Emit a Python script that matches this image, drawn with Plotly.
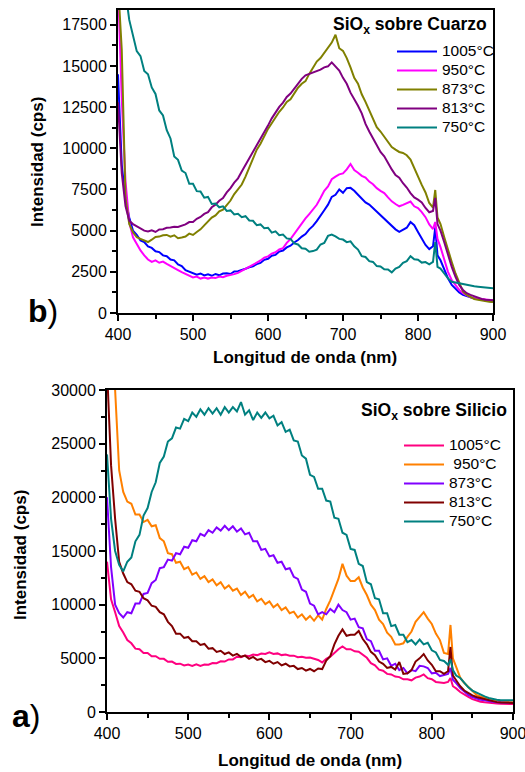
import plotly.graph_objects as go

# ---------------- data ----------------
wl = [400, 405, 410, 415, 420, 425, 430, 435, 440, 445, 450, 455, 460, 465, 470, 475, 480, 485, 490, 495,
      500, 505, 510, 515, 520, 525, 530, 535, 540, 545, 550, 555, 560, 565, 570, 575, 580, 585, 590, 595,
      600, 605, 610, 615, 620, 625, 630, 635, 640, 645, 650, 655, 660, 665, 670, 675, 680, 685, 690, 695,
      700, 705, 710, 715, 720, 725, 730, 735, 740, 745, 750, 755, 760, 765, 770, 775, 780, 785, 790, 795,
      800, 805, 810, 815, 820, 823, 826, 830, 835, 840, 845, 850, 855, 860, 865, 870, 875, 880, 885, 890,
      895, 900]

labels_q = ["1005°C", "950°C", "873°C", "813°C", "750°C"]
labels_s = ["1005°C", " 950°C", "873°C", "813°C", "750°C"]

# SiOx sobre Cuarzo (b)
q1005 = [14500, 9000, 6900, 5800, 5000, 4750, 4400, 4300, 4050, 3950, 3750, 3700, 3500, 3450, 3250, 3200, 2950, 2850, 2600, 2520,
         2420, 2330, 2400, 2280, 2350, 2260, 2370, 2290, 2400, 2420, 2370, 2520, 2540, 2640, 2690, 2780, 2840, 2970, 3040, 3230,
         3290, 3480, 3530, 3730, 3790, 3980, 4090, 4280, 4430, 4640, 4790, 5080, 5290, 5580, 5880, 6240, 6580, 7050, 7180, 7500,
         7300, 7580, 7600, 7420, 7180, 6920, 6720, 6580, 6370, 6120, 5920, 5720, 5520, 5280, 5080, 4930, 5080, 5180, 5520, 5330,
         4920, 4480, 4130, 3880, 4050, 5200, 3500, 3200, 2600, 2100, 1700, 1450, 1250, 1100, 1000, 950, 900, 850, 800, 750,
         700, 680]
q950 = [20000, 13000, 8000, 5500, 4600, 4200, 3800, 3500, 3250, 3100, 3200, 3050, 3120, 2980, 2870, 2740, 2610, 2480, 2370, 2240,
        2160, 2210, 2090, 2160, 2090, 2160, 2120, 2210, 2170, 2260, 2290, 2360, 2440, 2560, 2670, 2790, 2890, 3060, 3190, 3360,
        3440, 3610, 3690, 3860, 3940, 4260, 4490, 4810, 5140, 5410, 5740, 6010, 6290, 6570, 6980, 7420, 7690, 8120, 8280, 8420,
        8480, 8720, 9050, 8680, 8520, 8330, 8220, 7980, 7820, 7580, 7420, 7280, 7020, 6780, 6620, 6480, 6570, 6680, 6770, 6480,
        6370, 6130, 5820, 5380, 5100, 5530, 4500, 4000, 3200, 2500, 2000, 1700, 1400, 1200, 1050, 950, 900, 870, 830, 800,
        780, 780]
q873 = [20000, 16000, 7000, 5400, 4900, 4600, 4500, 4380, 4310, 4450, 4620, 4640, 4720, 4740, 4640, 4720, 4540, 4580, 4640, 4820,
        4740, 4920, 5080, 5320, 5530, 5790, 5930, 6170, 6280, 6570, 6830, 7220, 7480, 7800, 8280, 8820, 9380, 9920, 10280, 10720,
        11180, 11520, 11880, 12220, 12480, 12820, 12980, 13320, 13680, 13920, 14080, 14520, 14880, 15270, 15480, 15820, 16080, 16420, 16900, 16080,
        15920, 15480, 14920, 14280, 13920, 13280, 12820, 12280, 11820, 11280, 11020, 10680, 10420, 10080, 9920, 9780, 9720, 9580, 9320, 8780,
        8220, 7780, 7320, 6680, 6400, 7470, 5800, 5400, 4600, 3800, 3100, 2400, 1800, 1300, 1100, 950, 850, 800, 750, 700,
        680, 670]
q813 = [12800, 8500, 6500, 5600, 5400, 5250, 5150, 5000, 4950, 5020, 4920, 5070, 5090, 5170, 5190, 5240, 5230, 5320, 5380, 5520,
        5530, 5720, 5830, 6020, 6120, 6420, 6580, 6820, 6980, 7320, 7580, 7920, 8180, 8590, 8980, 9420, 9780, 10220, 10580, 11020,
        11380, 11820, 12180, 12520, 12780, 13120, 13330, 13620, 13880, 14220, 14430, 14520, 14580, 14660, 14780, 14920, 14980, 15220, 14980, 14720,
        14280, 13920, 13380, 13020, 12580, 12120, 11480, 11020, 10580, 10220, 9780, 9520, 9080, 8720, 8380, 8220, 7880, 7620, 7280, 7020,
        6880, 6720, 6380, 6120, 6200, 6990, 5400, 5000, 4300, 3500, 2800, 2200, 1700, 1400, 1200, 1100, 1000, 920, 850, 800,
        790, 780]
q750 = [24000, 22000, 19500, 17800, 16900, 15900, 15600, 14700, 14500, 13700, 13300, 12300, 12000, 11100, 10600, 9500, 9300, 8650, 8500, 7850,
        7850, 7400, 7380, 7000, 7050, 6620, 6650, 6420, 6480, 6200, 6230, 5980, 6020, 5820, 5880, 5620, 5600, 5330, 5380, 5150,
        5180, 4880, 4960, 4720, 4760, 4530, 4500, 4230, 4160, 3930, 3900, 3720, 3760, 3850, 4160, 4250, 4680, 4760, 4650, 4500,
        4460, 4300, 4350, 4050, 3850, 3450, 3400, 3150, 3100, 2850, 2830, 2650, 2640, 2470, 2700, 2800, 3050, 3150, 3450, 3260,
        3230, 3060, 3090, 2960, 3100, 4310, 2800, 2700, 2400, 2100, 1900, 1850, 1800, 1750, 1700, 1650, 1620, 1600, 1580, 1550,
        1520, 1500]

# SiOx sobre Silicio (a)
s1005 = [14000, 10500, 9300, 8000, 7400, 6700, 6400, 5900, 5850, 5500, 5500, 5200, 5200, 4950, 4950, 4680, 4700, 4480, 4500, 4330,
         4420, 4300, 4450, 4300, 4420, 4400, 4560, 4550, 4720, 4700, 4900, 4900, 5150, 5100, 5250, 5200, 5350, 5300, 5450, 5400,
         5560, 5400, 5460, 5300, 5350, 5250, 5250, 5100, 5150, 5050, 5080, 4950, 4850, 4620, 4950, 5150, 5550, 5850, 6100, 5850,
         5850, 5650, 5620, 5350, 5050, 4550, 4350, 3950, 3850, 3550, 3500, 3300, 3250, 3050, 3050, 2950, 3200, 3300, 3500, 3150,
         3050, 2800, 2750, 2700, 2800, 3170, 2400, 2200, 1860, 1600, 1400, 1200, 1050, 950, 900, 850, 820, 800, 780, 760,
         750, 740]
s950 = [45000, 38000, 30000, 22500, 20500, 19600, 19400, 18400, 18400, 17700, 17900, 17300, 17400, 16200, 15900, 14800, 14700, 13900, 14000, 13300,
        13500, 12800, 13000, 12400, 12650, 12100, 12350, 11800, 12100, 11500, 11800, 11300, 11500, 10900, 11200, 10650, 10900, 10300, 10550, 10050,
        10300, 9750, 10050, 9500, 9750, 9200, 9350, 8800, 9100, 8600, 8950, 8500, 9000, 8600, 9600, 10400, 11500, 12400, 13800, 12700,
        12200, 12200, 12550, 11600, 10900, 10000, 9500, 8600, 8200, 7400, 7000, 6300, 6300, 6400, 7000, 7500, 8400, 8800, 9300, 8700,
        8200, 7300, 6700, 5500, 5400, 8110, 5000, 4200, 3200, 2700, 2300, 1900, 1600, 1450, 1300, 1200, 1100, 1050, 1000, 950,
        930, 920]
s873 = [20000, 13500, 10000, 9200, 8800, 9300, 9200, 10100, 10100, 11000, 11100, 12000, 12300, 13400, 13500, 14200, 14100, 14800, 14700, 15400,
        15300, 16000, 15900, 16600, 16400, 16950, 16700, 17200, 16900, 17350, 16950, 17300, 16800, 17100, 16550, 16700, 15900, 15900, 15100, 15200,
        14500, 14600, 13900, 14000, 13300, 13400, 12600, 12400, 11400, 11200, 10100, 9900, 9100, 9300, 9100, 9600, 9300, 10000, 9500, 9300,
        8600, 8700, 7900, 7800, 6800, 6600, 5700, 5700, 4900, 5000, 4300, 4500, 3900, 4100, 3600, 3900, 3800, 4300, 4250, 4100,
        3600, 3650, 3350, 3450, 3550, 4100, 3000, 2700, 2240, 1900, 1600, 1400, 1250, 1150, 1100, 1000, 950, 900, 870, 850,
        840, 830]
s813 = [32000, 23000, 18000, 14000, 12900, 12100, 11900, 11300, 11200, 10600, 10400, 9900, 9800, 9300, 9100, 8400, 8000, 7300, 7300, 6900,
        6990, 6600, 6600, 6250, 6340, 5900, 5950, 5600, 5700, 5400, 5550, 5250, 5410, 5150, 5250, 4950, 5130, 4850, 4950, 4650,
        4760, 4500, 4650, 4350, 4500, 4250, 4300, 4000, 4100, 3850, 4010, 3800, 4050, 4000, 4800, 5200, 6300, 7100, 7700, 7100,
        7200, 7200, 7550, 6800, 6300, 5600, 5300, 4700, 4480, 4100, 4200, 3950, 4650, 3550, 3600, 3900, 4700, 5000, 5400, 4800,
        4400, 3800, 3800, 3550, 3800, 6060, 3400, 2900, 2400, 2000, 1750, 1550, 1400, 1300, 1150, 1050, 980, 920, 880, 860,
        850, 840]
s750 = [24000, 18000, 15000, 13700, 13100, 14000, 14400, 15900, 16500, 18300, 19000, 20500, 21400, 23200, 23800, 25200, 25500, 26500, 26400, 27300,
        27100, 27900, 27500, 28200, 27700, 28300, 27800, 28300, 27700, 28400, 27900, 28400, 28000, 28880, 27700, 28100, 27200, 27900, 27400, 27900,
        27350, 27600, 26700, 27000, 26100, 26300, 25300, 25200, 23900, 23600, 22100, 21900, 20800, 20800, 19700, 19600, 18100, 18000, 16700, 16500,
        15200, 15100, 13800, 13600, 12100, 11900, 10600, 10500, 9200, 9200, 8000, 8100, 7200, 7200, 6500, 6700, 6300, 6750, 6300, 6450,
        5750, 5550, 4850, 4750, 4400, 4900, 3900, 3400, 3170, 2700, 2300, 2000, 1800, 1600, 1450, 1300, 1200, 1150, 1100, 1100,
        1100, 1100]

colors_q = ["#0000FF", "#FF00FF", "#808000", "#800080", "#008080"]
colors_s = ["#FF0080", "#FF8000", "#8000FF", "#800000", "#008080"]

FONT = "Liberation Sans, Arial, sans-serif"
W, H = 525, 772

fig = go.Figure()
for name, ys, c in zip(labels_q, [q1005, q950, q873, q813, q750], colors_q):
    fig.add_trace(go.Scatter(x=wl, y=ys, mode="lines", line=dict(color=c, width=2),
                             name='<span style="font-size:15.5px">%s</span>' % name,
                             xaxis="x", yaxis="y", legend="legend"))
for name, ys, c in zip(labels_s, [s1005, s950, s873, s813, s750], colors_s):
    fig.add_trace(go.Scatter(x=wl, y=ys, mode="lines", line=dict(color=c, width=2),
                             name='<span style="font-size:15.5px">%s</span>' % name.replace(" ", "&nbsp;"),
                             xaxis="x2", yaxis="y2", legend="legend2"))

def px(x):
    return x / W

def py(y):
    return 1 - y / H

axis_common = dict(showline=True, linecolor="black", linewidth=2, mirror=True, ticks="outside",
                   ticklen=6, tickwidth=2, tickcolor="black", showgrid=False, zeroline=False,
                   ticklabeloverflow="allow",
                   tickfont=dict(family=FONT, size=16, color="black"), automargin=False)

minor_x = dict(ticks="outside", ticklen=4, tickwidth=1.5, dtick=50, tickcolor="black")

fig.update_layout(
    width=W, height=H, margin=dict(l=0, r=0, t=0, b=0),
    paper_bgcolor="white", plot_bgcolor="white",
    xaxis=dict(domain=[px(118), px(493)], range=[400, 900], anchor="y", dtick=100, tick0=400,
               minor=minor_x, **axis_common),
    yaxis=dict(domain=[py(313), py(10)], range=[0, 18400], anchor="x", dtick=2500, tickformat="d",
               minor=dict(ticks="outside", ticklen=4, tickwidth=1.5, dtick=1250, tickcolor="black"), **axis_common),
    xaxis2=dict(domain=[px(107), px(513)], range=[400, 900], anchor="y2", dtick=100, tick0=400,
                minor=minor_x, **axis_common),
    yaxis2=dict(domain=[py(712), py(390)], range=[0, 30000], anchor="x2", dtick=5000, tickformat="d",
                minor=dict(ticks="outside", ticklen=4, tickwidth=1.5, dtick=2500, tickcolor="black"), **axis_common),
    legend=dict(x=px(392), y=py(37), xanchor="left", yanchor="top", bgcolor="rgba(0,0,0,0)",
                font=dict(family=FONT, size=10.8, color="black"), tracegroupgap=0, itemwidth=40),
    legend2=dict(x=px(399), y=py(431), xanchor="left", yanchor="top", bgcolor="rgba(0,0,0,0)",
                 font=dict(family=FONT, size=11.7, color="black"), tracegroupgap=0, itemwidth=40),
    showlegend=True,
)

ann = []
# axis titles
ann.append(dict(text="<b>Longitud de onda (nm)</b>", x=px(305), y=py(357), xref="paper", yref="paper",
                showarrow=False, font=dict(family=FONT, size=17, color="black"), xanchor="center", yanchor="middle"))
ann.append(dict(text="<b>Longitud de onda (nm)</b>", x=px(310), y=py(760), xref="paper", yref="paper",
                showarrow=False, font=dict(family=FONT, size=17, color="black"), xanchor="center", yanchor="middle"))
ann.append(dict(text="<b>Intensidad (cps)</b>", x=px(38), y=py(162), xref="paper", yref="paper", textangle=-90,
                showarrow=False, font=dict(family=FONT, size=17, color="black"), xanchor="center", yanchor="middle"))
ann.append(dict(text="<b>Intensidad (cps)</b>", x=px(20), y=py(555), xref="paper", yref="paper", textangle=-90,
                showarrow=False, font=dict(family=FONT, size=17, color="black"), xanchor="center", yanchor="middle"))
# panel titles
ann.append(dict(text="<b>SiO<sub>x</sub> sobre Cuarzo</b>", x=px(489), y=py(25), xref="paper", yref="paper",
                showarrow=False, font=dict(family=FONT, size=17.5, color="black"), xanchor="right", yanchor="middle"))
ann.append(dict(text="<b>SiO<sub>x</sub> sobre Silicio</b>", x=px(509), y=py(411), xref="paper", yref="paper",
                showarrow=False, font=dict(family=FONT, size=17.5, color="black"), xanchor="right", yanchor="middle"))
# panel letters
ann.append(dict(text="<b>b</b>)", x=px(26), y=py(311), xref="paper", yref="paper",
                showarrow=False, font=dict(family=FONT, size=32, color="black"), xanchor="left", yanchor="middle"))
ann.append(dict(text="<b>a</b>)", x=px(10), y=py(716), xref="paper", yref="paper",
                showarrow=False, font=dict(family=FONT, size=32, color="black"), xanchor="left", yanchor="middle"))
fig.update_layout(annotations=ann)

fig.write_html("out.html")
